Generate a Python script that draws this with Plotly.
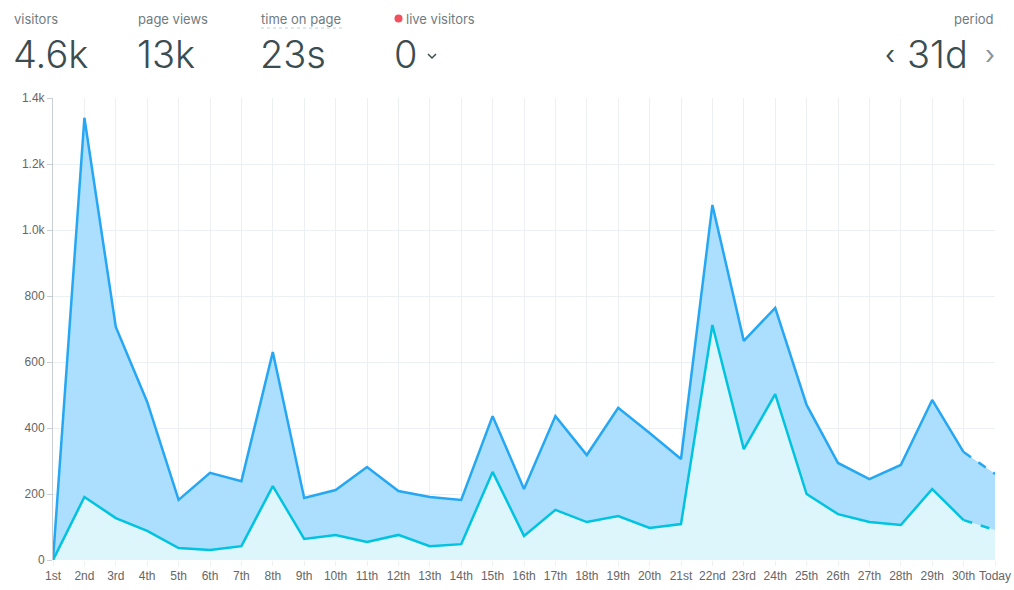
import plotly.graph_objects as go

days = ["1st", "2nd", "3rd", "4th", "5th", "6th", "7th", "8th", "9th", "10th",
        "11th", "12th", "13th", "14th", "15th", "16th", "17th", "18th", "19th", "20th",
        "21st", "22nd", "23rd", "24th", "25th", "26th", "27th", "28th", "29th", "30th", "Today"]
page_views = [0, 1340, 706, 479, 182, 264, 239, 630, 188, 212,
              282, 209, 191, 182, 436, 215, 436, 318, 461, 385,
              306, 1076, 664, 764, 470, 294, 245, 288, 485, 327, 261]
visitors = [0, 191, 127, 88, 36, 30, 42, 224, 64, 76,
            55, 76, 42, 48, 267, 73, 152, 115, 133, 97,
            109, 712, 336, 503, 200, 139, 115, 106, 215, 121, 91]
y_ticks = [0, 200, 400, 600, 800, 1000, 1200, 1400]
y_tick_text = ["0", "200", "400", "600", "800", "1.0k", "1.2k", "1.4k"]

PV_LINE = "#26a7f4"
PV_FILL = "#abdffd"
V_LINE = "#00c3e0"
V_FILL = "#ddf6fb"

fig = go.Figure()
# fills
fig.add_trace(go.Scatter(x=days, y=page_views, mode="lines", line=dict(width=0),
                         fill="tozeroy", fillcolor=PV_FILL, hoverinfo="skip", showlegend=False))
fig.add_trace(go.Scatter(x=days, y=visitors, mode="lines", line=dict(width=0),
                         fill="tozeroy", fillcolor=V_FILL, hoverinfo="skip", showlegend=False))
# solid lines
fig.add_trace(go.Scatter(x=days[:-1], y=page_views[:-1], mode="lines",
                         line=dict(color=PV_LINE, width=2.5), name="page views", showlegend=False))
fig.add_trace(go.Scatter(x=days[:-1], y=visitors[:-1], mode="lines",
                         line=dict(color=V_LINE, width=2.5), name="visitors", showlegend=False))
# dashed last segment
fig.add_trace(go.Scatter(x=days[-2:], y=page_views[-2:], mode="lines",
                         line=dict(color=PV_LINE, width=2.5, dash="dash"), showlegend=False))
fig.add_trace(go.Scatter(x=days[-2:], y=visitors[-2:], mode="lines",
                         line=dict(color=V_LINE, width=2.5, dash="dash"), showlegend=False))

L, R, T, B = 53, 995, 98, 560
W, H = 1014, 590


def px(xp):
    return (xp - L) / (R - L)


def py(yp):
    return (B - yp) / (B - T)


DARK = "#3b4d51"
GRAY = "#6f7c7f"
anns = []


def label(text, x, y, size, color, anchor="left", family="Inter", weight=400):
    anns.append(dict(text=text, x=px(x), y=py(y), xref="paper", yref="paper",
                     xanchor=anchor, yanchor="middle", showarrow=False,
                     font=dict(size=size, color=color, family=family, weight=weight)))


label("visitors", 12, 19, 13, GRAY)
label("page views", 136, 19, 13, GRAY)
label("time on page", 259, 19, 13, GRAY)
label("live visitors", 404, 19, 13, GRAY)
label("period", 996, 19, 13, GRAY, anchor="right")

label("4.6k", 11, 54, 38, DARK, weight=300)
label("13k", 135, 54, 38, DARK, weight=300)
label("23s", 258, 54, 38, DARK, weight=300)
label("0", 392, 54, 38, DARK, weight=300)
label("31d", 905, 54, 38, DARK, weight=300)
label("‹", 883, 55, 26, DARK)
label("›", 983, 55, 26, "#8a9699")

shapes = [
    # dashed underline under "time on page"
    dict(type="line", xref="paper", yref="paper", x0=px(261), x1=px(344), y0=py(28), y1=py(28),
         line=dict(color="#b8d4e0", width=1, dash="dot")),
    # live dot
    dict(type="circle", xref="paper", yref="paper", x0=px(394.5), x1=px(402.5),
         y0=py(22.5), y1=py(14.5), fillcolor="#f2505e", line=dict(width=0)),
    # chevron after 0
    dict(type="path", xref="paper", yref="paper",
         path=f"M {px(428)},{py(54)} L {px(432)},{py(58)} L {px(436)},{py(54)}",
         line=dict(color=DARK, width=1.5)),
]

fig.update_layout(
    width=W, height=H,
    margin=dict(l=L, r=W - R, t=T, b=H - B, autoexpand=False),
    paper_bgcolor="white", plot_bgcolor="white",
    annotations=anns, shapes=shapes,
    font=dict(family="Liberation Sans, Arial, sans-serif", size=12, color="#666"),
    hovermode="x",
)
fig.update_xaxes(type="category", range=[0, len(days) - 1], showgrid=True, gridcolor="#ecf0f3",
                 ticks="outside", ticklen=5, tickcolor="#ecf0f3", showline=False,
                 tickfont=dict(size=12, color="#666"), zeroline=False, fixedrange=True)
fig.update_yaxes(range=[0, 1400], tickvals=y_ticks, ticktext=y_tick_text, showgrid=True,
                 gridcolor="#ecf0f3", ticks="outside", ticklen=5, tickcolor="#c8ced3",
                 showline=True, linecolor="#c8ced3", linewidth=1, zeroline=False,
                 tickfont=dict(size=12, color="#666"), fixedrange=True)

fig.write_html("out.html", config={"displayModeBar": False},
               post_script="document.body.style.margin='0';document.body.style.overflow='hidden';")
